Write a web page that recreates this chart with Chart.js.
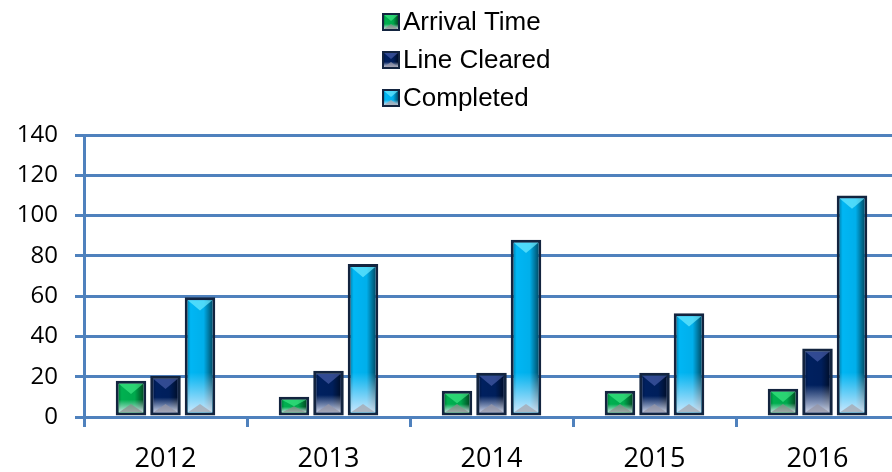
<!DOCTYPE html>
<html>
<head>
<meta charset="utf-8">
<script src="https://cdn.jsdelivr.net/npm/chart.js@4"></script>
<style>
  html, body { margin: 0; padding: 0; background: #fff; overflow: hidden; }
  #wrap { width: 900px; height: 472px; }
</style>
</head>
<body>
<div id="wrap"><canvas id="myChart"></canvas></div>
<script>
// data
const years = ['2012', '2013', '2014', '2015', '2016'];
const arrivalTime = [18, 10, 13, 13, 14];
const lineCleared = [20.5, 23, 22, 22, 34];
const completed = [59.5, 76, 88, 51.5, 110];
const yTicks = [0, 20, 40, 60, 80, 100, 120, 140];

const GRID = '#4f81bd';
const EDGE = '#13243f';

// colours for each series: base, top bevel, bottom bevel
const looks = [
    { base: '#00b050', top: 'rgba(70,240,140,0.6)', bottom: 'rgba(140,140,140,0.7)' },
    { base: '#00205f', top: 'rgba(90,110,190,0.55)', bottom: 'rgba(150,150,165,0.75)' },
    { base: '#00b6f4', top: 'rgba(110,235,255,0.7)', bottom: 'rgba(165,170,180,0.8)' }
];

// bevel shading on a box (inside the border)
function bevel(ctx, L, T, R, B, look, fade) {
    const w = R - L, h = B - T;
    if (w <= 0 || h <= 0) return;
    const cx = (L + R) / 2;
    ctx.save();
    ctx.beginPath();
    ctx.rect(L, T, w, h);
    ctx.clip();

    // side shading
    const hg = ctx.createLinearGradient(L, 0, R, 0);
    hg.addColorStop(0, 'rgba(0,0,0,0.22)');
    hg.addColorStop(0.12, 'rgba(0,0,0,0)');
    hg.addColorStop(0.65, 'rgba(0,0,0,0.04)');
    hg.addColorStop(1, 'rgba(0,0,0,0.55)');
    ctx.fillStyle = hg;
    ctx.fillRect(L, T, w, h);

    // whitish fade at the foot
    const fh = Math.min(h * 0.45, fade);
    const vg = ctx.createLinearGradient(0, B, 0, B - fh);
    vg.addColorStop(0, 'rgba(235,240,255,0.85)');
    vg.addColorStop(1, 'rgba(235,240,255,0)');
    ctx.fillStyle = vg;
    ctx.fillRect(L, B - fh, w, fh);

    // top bevel
    const d = Math.min(w * 0.42, h / 2);
    ctx.fillStyle = look.top;
    ctx.beginPath();
    ctx.moveTo(L, T); ctx.lineTo(R, T); ctx.lineTo(cx, T + d); ctx.closePath();
    ctx.fill();
    // bottom bevel
    const e = Math.min(w * 0.35, h / 2);
    ctx.fillStyle = look.bottom;
    ctx.beginPath();
    ctx.moveTo(L, B); ctx.lineTo(R, B); ctx.lineTo(cx, B - e); ctx.closePath();
    ctx.fill();
    ctx.restore();
}

const barBevel = {
    id: 'barBevel',
    afterDatasetsDraw(chart) {
        const ctx = chart.ctx;
        chart.data.datasets.forEach((ds, i) => {
            const meta = chart.getDatasetMeta(i);
            meta.data.forEach(bar => {
                const p = bar.getProps(['x', 'y', 'base', 'width'], true);
                const bw = ds.borderWidth;
                bevel(ctx, p.x - p.width / 2 + bw, p.y + bw, p.x + p.width / 2 - bw, p.base - bw, looks[i], 40);
            });
        });
    }
};

// legend stacked one item per row, like the original
const stackLegend = {
    id: 'stackLegend',
    afterDraw(chart) {
        const ctx = chart.ctx;
        ctx.save();
        ctx.font = '26px "Liberation Sans", Arial, sans-serif';
        ctx.textBaseline = 'middle';
        ctx.textAlign = 'left';
        chart.data.datasets.forEach((ds, i) => {
            const y = 22 + i * 38;
            const bx = 382, s = 18;
            ctx.fillStyle = EDGE;
            ctx.fillRect(bx, y - s / 2, s, s);
            ctx.fillStyle = looks[i].base;
            ctx.fillRect(bx + 2, y - s / 2 + 2, s - 4, s - 4);
            bevel(ctx, bx + 2, y - s / 2 + 2, bx + s - 2, y + s / 2 - 2, looks[i], 5);
            ctx.fillStyle = '#000';
            ctx.fillText(ds.label, bx + s + 3, y + 1);
        });
        ctx.restore();
    }
};

new Chart(document.getElementById('myChart').getContext('2d'), {
    type: 'bar',
    data: {
        labels: years,
        datasets: [
            { label: 'Arrival Time', data: arrivalTime, backgroundColor: looks[0].base, borderColor: EDGE, borderWidth: 3, borderSkipped: false },
            { label: 'Line Cleared', data: lineCleared, backgroundColor: looks[1].base, borderColor: EDGE, borderWidth: 3, borderSkipped: false },
            { label: 'Completed', data: completed, backgroundColor: looks[2].base, borderColor: EDGE, borderWidth: 3, borderSkipped: false }
        ]
    },
    options: {
        responsive: true,
        maintainAspectRatio: false,
        animation: false,
        categoryPercentage: 0.635,
        barPercentage: 0.885,
        layout: { padding: { top: 135, right: 1, left: 0, bottom: 0 } },
        plugins: {
            legend: { display: false },
            tooltip: { enabled: false }
        },
        scales: {
            x: {
                grid: { display: true, drawOnChartArea: false, offset: true, color: GRID, lineWidth: 3, tickLength: 10 },
                border: { display: true, color: GRID, width: 3 },
                ticks: { color: '#000', padding: 16, font: { family: '"Open Sans", sans-serif', size: 27 } },
                afterFit(scale) { scale.height = 55; }
            },
            y: {
                min: 0, max: 140,
                afterBuildTicks(scale) { scale.ticks = yTicks.map(v => ({ value: v })); },
                grid: { color: GRID, lineWidth: 3, tickLength: 9 },
                border: { display: true, color: GRID, width: 3 },
                ticks: { color: '#000', padding: 17, font: { family: '"Open Sans", sans-serif', size: 24 } },
                afterFit(scale) { scale.width = 84; }
            }
        }
    },
    plugins: [barBevel, stackLegend]
});
</script>
</body>
</html>
